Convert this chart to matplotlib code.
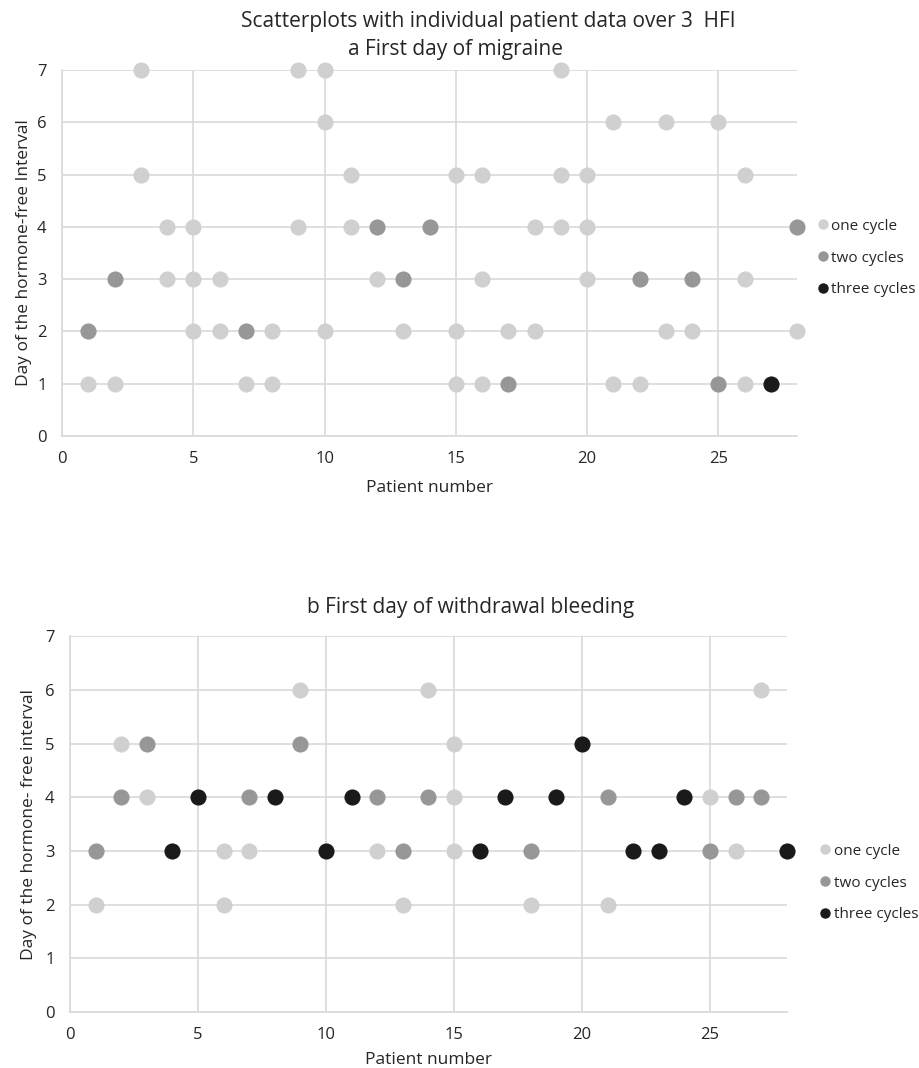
import matplotlib.pyplot as plt
from matplotlib.lines import Line2D

plt.rcParams['font.family'] = ['Open Sans', 'DejaVu Sans']

# a: first day of migraine
a_one_x = [1, 2, 3, 3, 4, 4, 5, 5, 5, 6, 6, 7, 8, 8, 9, 9, 10, 10, 10, 11, 11, 12, 13,
           15, 15, 15, 16, 16, 16, 17, 18, 18, 19, 19, 19, 20, 20, 20, 21, 21, 22,
           23, 23, 24, 25, 26, 26, 26, 28]
a_one_y = [1, 1, 7, 5, 4, 3, 4, 3, 2, 3, 2, 1, 2, 1, 7, 4, 7, 6, 2, 5, 4, 3, 2,
           5, 2, 1, 5, 3, 1, 2, 4, 2, 7, 5, 4, 5, 4, 3, 6, 1, 1,
           6, 2, 2, 6, 5, 3, 1, 2]
a_two_x = [1, 2, 7, 12, 13, 14, 17, 22, 24, 25, 28]
a_two_y = [2, 3, 2, 4, 3, 4, 1, 3, 3, 1, 4]
a_three_x = [27]
a_three_y = [1]

# b: first day of withdrawal bleeding
b_one_x = [1, 2, 3, 6, 6, 7, 9, 12, 13, 14, 15, 15, 15, 18, 21, 25, 26, 27]
b_one_y = [2, 5, 4, 3, 2, 3, 6, 3, 2, 6, 5, 4, 3, 2, 2, 4, 3, 6]
b_two_x = [1, 2, 3, 7, 9, 12, 13, 14, 18, 21, 25, 26, 27]
b_two_y = [3, 4, 5, 4, 5, 4, 3, 4, 3, 4, 3, 4, 4]
b_three_x = [4, 5, 8, 10, 11, 16, 17, 19, 20, 22, 23, 24, 28]
b_three_y = [3, 4, 4, 3, 4, 3, 4, 4, 5, 3, 3, 4, 3]

labels = ['one cycle', 'two cycles', 'three cycles']
colors = ['#d0d0d0', '#979797', '#1a1a1a']
grid_c = '#d9d9d9'
text_c = '#262626'

fig = plt.figure(figsize=(9.2, 10.68), dpi=100)


def draw(ax, series, ylabel, xpad, ypad, leg_x, leg_y):
    for (xs, ys), c, lab in zip(series, colors, labels):
        ax.scatter(xs, ys, s=135, color=c, label=lab, zorder=3, linewidths=0, clip_on=False)
    ax.set_xlim(0, 28)
    ax.set_ylim(0, 7)
    ax.set_xticks([0, 5, 10, 15, 20, 25])
    ax.set_yticks(range(8))
    ax.grid(True, color=grid_c, linewidth=1.2, zorder=0)
    for s in ['top', 'right']:
        ax.spines[s].set_visible(False)
    for s in ['left', 'bottom']:
        ax.spines[s].set_color(grid_c)
        ax.spines[s].set_linewidth(1.2)
    ax.tick_params(length=0, labelsize=12, colors=text_c, pad=11)
    ax.set_xlabel('Patient number', fontsize=12.5, color=text_c, labelpad=xpad)
    ax.set_ylabel(ylabel, fontsize=12.5, color=text_c, labelpad=ypad)
    handles = [Line2D([], [], marker='o', linestyle='', color=c, markersize=6.5) for c in colors]
    ax.legend(handles, labels, loc='center left', bbox_to_anchor=(leg_x, leg_y),
              frameon=False, fontsize=11, handletextpad=0.05, handlelength=1.0,
              labelspacing=1.1, labelcolor=text_c)


ax1 = fig.add_axes([0.0674, 0.5918, 0.799, 0.3427])
draw(ax1, [(a_one_x, a_one_y), (a_two_x, a_two_y), (a_three_x, a_three_y)],
     'Day of the hormone-free Interval', 9, 4, 1.006, 0.486)
fig.text(488 / 920, 0.9747, 'Scatterplots with individual patient data over 3  HFI',
         ha='center', va='baseline', fontsize=15, color=text_c)
fig.text(456 / 920, 0.9485, 'a First day of migraine',
         ha='center', va='baseline', fontsize=15, color=text_c)

ax2 = fig.add_axes([0.0761, 0.0524, 0.779, 0.352])
draw(ax2, [(b_one_x, b_one_y), (b_two_x, b_two_y), (b_three_x, b_three_y)],
     'Day of the hormone- free interval', 6, 6, 1.024, 0.343)
fig.text(471 / 920, 0.426, 'b First day of withdrawal bleeding',
         ha='center', va='baseline', fontsize=15, color=text_c)

fig.savefig('out.png', dpi=100)
